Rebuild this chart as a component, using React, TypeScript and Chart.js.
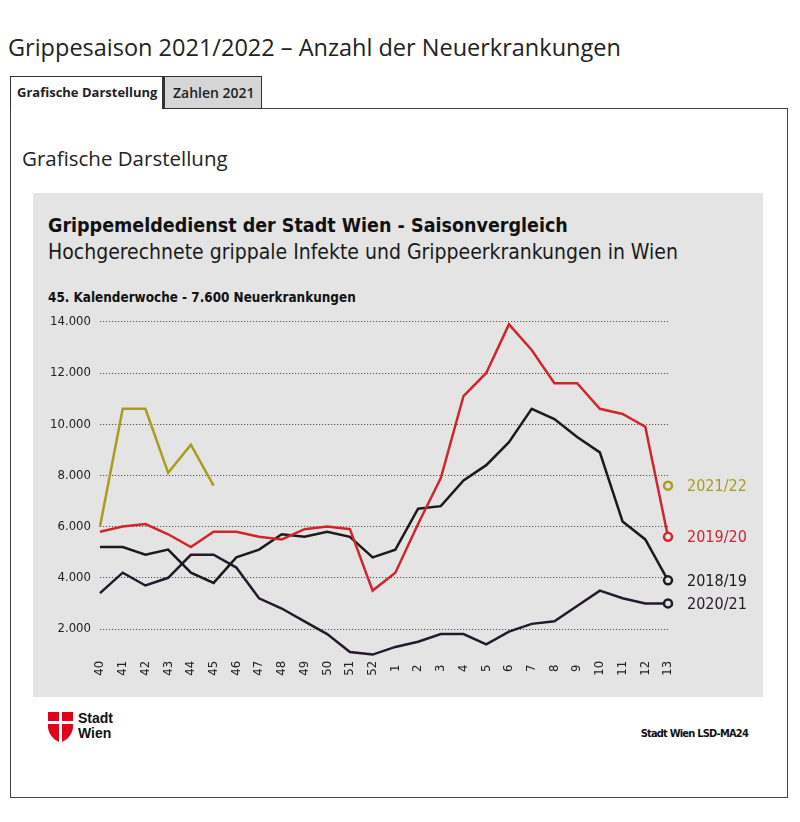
import React, { useEffect, useRef } from "react";
import { Chart, registerables } from "chart.js";

Chart.register(...registerables);

const weeks = ["40","41","42","43","44","45","46","47","48","49","50","51","52","1","2","3","4","5","6","7","8","9","10","11","12","13"];

const season2122 = [6000,10600,10600,8100,9200,7600,null,null,null,null,null,null,null,null,null,null,null,null,null,null,null,null,null,null,null,7600];
const season1920 = [5800,6000,6100,5700,5200,5800,5800,5600,5500,5900,6000,5900,3500,4200,6100,7900,11100,12000,13900,12900,11600,11600,10600,10400,9900,5600];
const season1819 = [5200,5200,4900,5100,4200,3800,4800,5100,5700,5600,5800,5600,4800,5100,6700,6800,7800,8400,9300,10600,10200,9500,8900,6200,5500,3900];
const season2021 = [3400,4200,3700,4000,4900,4900,4400,3200,2800,2300,1800,1100,1000,1300,1500,1800,1800,1400,1900,2200,2300,2900,3500,3200,3000,3000];

const seriesNames = ["2021/22", "2019/20", "2018/19", "2020/21"];
const seriesColors = ["#ab9c1c", "#d0262b", "#1b1b1b", "#241a2b"];
const seriesData = [season2122, season1920, season1819, season2021];

const yMin = 0;
const yMax = 14000;
const yStep = 2000;

const COND = "'Liberation Sans Narrow', 'DejaVu Sans Condensed', 'Roboto', sans-serif";
const PANEL_BG = "#e4e4e4";

function fmt(v: number) {
  return String(v).replace(/\B(?=(\d{3})+(?!\d))/g, ".");
}

const xLabelPlugin = {
  id: "xLabelsInside",
  afterDatasetsDraw(chart: any) {
    const ctx = chart.ctx;
    const xs = chart.scales.x;
    const ys = chart.scales.y;
    ctx.save();
    ctx.fillStyle = "#222";
    ctx.font = `13px ${COND}`;
    ctx.textAlign = "center";
    ctx.textBaseline = "middle";
    weeks.forEach((w, i) => {
      const x = xs.getPixelForValue(i);
      const y = ys.bottom - 12;
      ctx.save();
      ctx.translate(x, y);
      ctx.rotate(-Math.PI / 2);
      ctx.fillText(w, 0, 0);
      ctx.restore();
    });
    ctx.restore();
  },
};

const endLabelPlugin = {
  id: "endLabels",
  afterDatasetsDraw(chart: any) {
    const ctx = chart.ctx;
    const ys = chart.scales.y;
    ctx.save();
    ctx.font = `16px ${COND}`;
    ctx.textAlign = "left";
    ctx.textBaseline = "middle";
    chart.data.datasets.forEach((ds: any) => {
      const d = ds.data as (number | null)[];
      let last = d.length - 1;
      while (last >= 0 && d[last] == null) last--;
      if (last < 0) return;
      const y = ys.getPixelForValue(d[last] as number);
      ctx.fillStyle = ds.borderColor;
      ctx.fillText(ds.label, chart.chartArea.right + 19, y + 1);
    });
    ctx.restore();
  },
};

function ChartCanvas() {
  const ref = useRef<HTMLCanvasElement | null>(null);
  useEffect(() => {
    if (!ref.current) return;
    const datasets = seriesData.map((data, i) => ({
      label: seriesNames[i],
      data,
      borderColor: seriesColors[i],
      backgroundColor: seriesColors[i],
      borderWidth: 2.5,
      tension: 0,
      spanGaps: false,
      pointRadius: data.map((_, j) => (j === data.length - 1 ? 4 : 0)),
      pointHoverRadius: 0,
      pointBorderWidth: 2.5,
      pointBorderColor: seriesColors[i],
      pointBackgroundColor: PANEL_BG,
    }));
    const chart = new Chart(ref.current, {
      type: "line",
      data: { labels: weeks, datasets },
      plugins: [xLabelPlugin, endLabelPlugin],
      options: {
        responsive: false,
        animation: false,
        events: [],
        layout: { padding: { left: 0, top: 14, right: 95, bottom: 14 } },
        plugins: { legend: { display: false }, tooltip: { enabled: false }, title: { display: false } },
        clip: false,
        scales: {
          x: {
            type: "category",
            display: false,
            offset: false,
          },
          y: {
            min: yMin,
            max: yMax,
            afterFit: (scale: any) => {
              scale.width = 67;
            },
            border: { display: false, dash: [1.2, 1.8] },
            grid: {
              drawTicks: false,
              color: (c: any) => (c.tick && c.tick.value === 0 ? "rgba(0,0,0,0)" : "#555"),
              lineWidth: 1,
            },
            ticks: {
              stepSize: yStep,
              padding: 9,
              color: "#222",
              font: { family: COND, size: 13 },
              callback: (v: any) => (Number(v) === 0 ? "" : fmt(Number(v))),
            },
          },
        },
      } as any,
    });
    return () => chart.destroy();
  }, []);
  return (
    <canvas
      ref={ref}
      width={730}
      height={392}
      style={{ position: "absolute", left: 33, top: 305, width: 730, height: 392 }}
    />
  );
}

export default function App() {
  const sans = "'Open Sans', 'DejaVu Sans', sans-serif";
  return (
    <div style={{ position: "absolute", left: 0, top: 0, width: 800, height: 822, background: "#fff", fontFamily: sans, color: "#222" }}>
      <div style={{ position: "absolute", left: 8, top: 30, fontSize: 23.5, whiteSpace: "nowrap", lineHeight: "34px" }}>
        Grippesaison 2021/2022 – Anzahl der Neuerkrankungen
      </div>
      {/* content box */}
      <div style={{ position: "absolute", left: 10, top: 108, width: 776, height: 688, border: "1px solid #444" }} />
      {/* tabs */}
      <div style={{ position: "absolute", left: 10, top: 76, width: 153, height: 33, borderTop: "1px solid #333", borderLeft: "1px solid #333", borderRight: "1px solid #333", background: "#fff", boxSizing: "border-box", fontSize: 13, fontWeight: 700, lineHeight: "31px", paddingLeft: 6, whiteSpace: "nowrap" }}>
        Grafische Darstellung
      </div>
      <div style={{ position: "absolute", left: 163, top: 76, width: 99, height: 33, border: "1px solid #333", borderLeft: "2px solid #333", background: "#d6d6d6", boxSizing: "border-box", fontSize: 14, fontWeight: 600, lineHeight: "31px", paddingLeft: 8, whiteSpace: "nowrap" }}>
        Zahlen 2021
      </div>
      <div style={{ position: "absolute", left: 22, top: 143, fontSize: 20.5, lineHeight: "30px", whiteSpace: "nowrap" }}>
        Grafische Darstellung
      </div>
      {/* gray panel */}
      <div style={{ position: "absolute", left: 33, top: 193, width: 730, height: 504, background: PANEL_BG }} />
      <div style={{ position: "absolute", left: 48, top: 212, fontFamily: COND, fontWeight: 700, fontSize: 19.5, lineHeight: "28px", color: "#111", whiteSpace: "nowrap" }}>
        Grippemeldedienst der Stadt Wien - Saisonvergleich
      </div>
      <div style={{ position: "absolute", left: 48, top: 238, fontFamily: COND, fontSize: 21, lineHeight: "28px", color: "#1a1a1a", whiteSpace: "nowrap" }}>
        Hochgerechnete grippale Infekte und Grippeerkrankungen in Wien
      </div>
      <div style={{ position: "absolute", left: 48, top: 288, fontFamily: COND, fontWeight: 700, fontSize: 13.4, lineHeight: "20px", color: "#111", whiteSpace: "nowrap" }}>
        45. Kalenderwoche - 7.600 Neuerkrankungen
      </div>
      <ChartCanvas />
      {/* Stadt Wien logo */}
      <svg style={{ position: "absolute", left: 48, top: 712 }} width={26} height={30} viewBox="0 0 26 30">
        <rect x="0" y="0" width="11" height="9" fill="#e3001b" />
        <rect x="14" y="0" width="11" height="9" fill="#e3001b" />
        <path d="M0 12 L11 12 L11 30 L6 27 Q1 22 0 16 Z" fill="#e3001b" />
        <path d="M14 12 L25 12 L25 16 Q24 22 19 27 L14 30 Z" fill="#e3001b" />
      </svg>
      <div style={{ position: "absolute", left: 78, top: 711, fontFamily: "'Liberation Sans', Arial, sans-serif", fontWeight: 700, fontSize: 14, lineHeight: "15px", color: "#111" }}>
        Stadt<br />Wien
      </div>
      <div style={{ position: "absolute", right: 800 - 748, top: 727, fontFamily: COND, fontWeight: 700, fontSize: 11, lineHeight: "14px", color: "#111", whiteSpace: "nowrap", letterSpacing: -0.8 }}>
        Stadt Wien LSD-MA24
      </div>
    </div>
  );
}
